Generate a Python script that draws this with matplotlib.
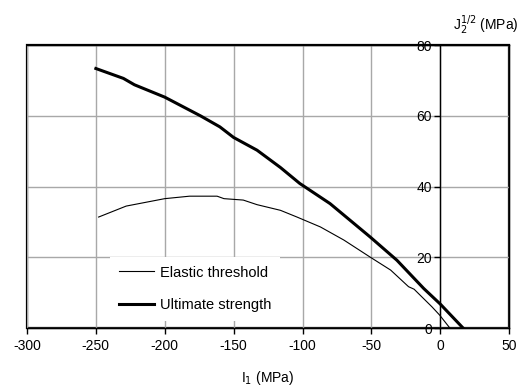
import numpy as np
import matplotlib.pyplot as plt

plt.rcParams['font.family'] = ['Liberation Sans', 'DejaVu Sans']
plt.rcParams['axes.unicode_minus'] = False

# Elastic threshold curve (I1, sqrt(J2))
elastic_i1 = [-248, -228, -200, -182, -162, -157, -143, -133, -116, -104, -87,
              -70, -51, -36, -23, -19, -6, -0.5, 7]
elastic_j2 = [31.4, 34.5, 36.6, 37.3, 37.3, 36.6, 36.2, 34.9, 33.3, 31.4, 28.6,
              24.9, 20.1, 16.4, 11.7, 11.0, 6.0, 3.7, 0]

# Ultimate strength curve
ultimate_i1 = [-250, -230, -222, -200, -174, -160, -150, -133, -116, -102,
               -80, -51, -31.5, -12, 0, 16.6]
ultimate_j2 = [73.4, 70.6, 68.8, 65.3, 60.0, 56.9, 53.9, 50.3, 45.4, 40.9,
               35.2, 25.8, 19.2, 11.2, 6.8, 0]

xticks = [-300, -250, -200, -150, -100, -50, 0, 50]
yticks = [0, 20, 40, 60, 80]

fig = plt.figure(figsize=(5.19, 3.86), dpi=100)
ax = fig.add_axes([0.052, 0.150, 0.929, 0.733])

ax.plot(elastic_i1, elastic_j2, color='black', lw=0.8, label='Elastic threshold')
ax.plot(ultimate_i1, ultimate_j2, color='black', lw=2.2, label='Ultimate strength')

ax.set_xlim(-300, 50)
ax.set_ylim(0, 80)
ax.set_xticks(xticks)
ax.set_yticks(yticks)
ax.grid(True, color='#a8a8a8', lw=1.0)
ax.set_axisbelow(True)

# y axis drawn at I1 = 0, full box around plot
ax.spines['left'].set_position(('data', 0))
for s in ax.spines.values():
    s.set_linewidth(1.0)
ax.patch.set_edgecolor('black')
ax.patch.set_linewidth(1.6)
ax.tick_params(axis='both', labelsize=10, length=4, width=1.0, direction='out')
ax.tick_params(axis='y', pad=2)

ax.set_xlabel('I$_1$ (MPa)', fontsize=10, labelpad=12)
fig.text(0.872, 0.935, r'J$_2^{1/2}$ (MPa)', fontsize=10, ha='left', va='center')

leg = ax.legend(loc='lower left', bbox_to_anchor=(0.157, 0.0), frameon=True,
                fontsize=10.5, handlelength=2.4, handletextpad=0.42,
                labelspacing=1.27, borderpad=0.6, fancybox=False)
leg.get_frame().set_edgecolor('none')
leg.get_frame().set_facecolor('white')
leg.get_frame().set_alpha(1.0)

fig.savefig('out.png', dpi=100)
